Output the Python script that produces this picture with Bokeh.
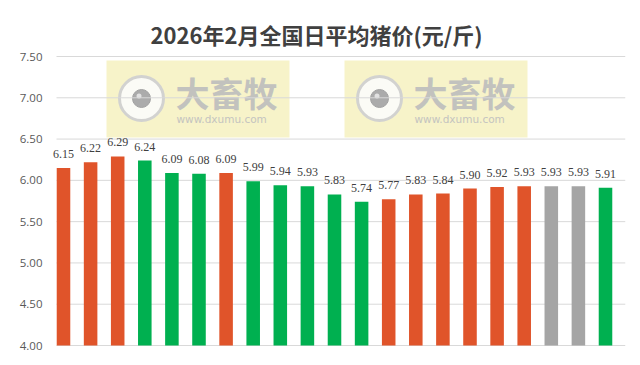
from bokeh.plotting import figure
from bokeh.models import ColumnDataSource, LabelSet, Label, BoxAnnotation, FixedTicker, NumeralTickFormatter, CategoricalColorMapper
from bokeh.embed import file_html
from bokeh.resources import INLINE

# ---- data ----
days = list(range(1, 22))
prices = [6.15, 6.22, 6.29, 6.24, 6.09, 6.08, 6.09, 5.99, 5.94, 5.93, 5.83,
          5.74, 5.77, 5.83, 5.84, 5.90, 5.92, 5.93, 5.93, 5.93, 5.91]
trend = ["up", "up", "up", "down", "down", "down", "up", "down", "down", "down", "down",
         "down", "up", "up", "up", "up", "up", "up", "flat", "flat", "down"]
y_ticks = [4.0, 4.5, 5.0, 5.5, 6.0, 6.5, 7.0, 7.5]
title_text = "2026年2月全国日平均猪价(元/斤)"

labels = ["%.2f" % v for v in prices]
src = ColumnDataSource(dict(day=days, price=prices, trend=trend, label=labels))

# frame geometry in page pixels
FL, FR, FT, FB = 44, 625, 55, 346
UNIT = 27.1                    # px per day
PX_PER_Y = (345 - 56) / 3.5    # px per yuan
X0 = 1 - (63 - FL) / UNIT
X1 = X0 + (FR - FL) / UNIT
Y0 = 4.0 - (FB - 345) / PX_PER_Y
Y1 = 7.5 + (56 - FT) / PX_PER_Y

p = figure(width=640, height=365, output_backend="svg", toolbar_location=None,
           x_range=(X0, X1), y_range=(Y0, Y1),
           min_border_left=FL, min_border_right=640 - FR, min_border_top=FT, min_border_bottom=365 - FB,
           background_fill_color="white", border_fill_color="white")
p.outline_line_color = None

# title
p.title.text = title_text
p.title.text_font = "Noto Sans CJK SC"
p.title.text_font_size = "22px"
p.title.text_font_style = "bold"
p.title.text_color = "#404040"
p.title.align = "left"
p.title.offset = 150 - FL
p.title.standoff = 12
p.title.text_line_height = 0.8

def px(x):
    return X0 + (x - FL) / UNIT

def py(y):
    return Y1 - (y - FT) / PX_PER_Y

# watermarks (decorative)
for dx in (0, 238):
    p.add_layout(BoxAnnotation(left=px(106 + dx), right=px(289 + dx), bottom=py(137), top=py(60),
                               fill_color="#F7F3C9", fill_alpha=1.0, line_color=None, level="image"))
    p.scatter([px(141 + dx)], [py(98)], size=44, fill_color="#FBFBF6", line_color="#D2D2D0",
              line_width=3, level="underlay")
    p.scatter([px(141 + dx)], [py(98)], size=18, fill_color="#ABABAB", line_color="#A2A2A2",
              line_width=1, level="underlay")
    p.scatter([px(138.5 + dx)], [py(95.5)], size=5, fill_color="#E2E2E2", line_color=None, level="underlay")
    p.add_layout(Label(x=px(175 + dx), y=py(92), text="大畜牧", text_font="Noto Sans CJK SC",
                       text_font_style="bold", text_font_size="34px", text_color="#C2C2BE",
                       text_align="left", text_baseline="middle", level="underlay"))
    p.add_layout(Label(x=px(176 + dx), y=py(118), text="www.dxumu.com", text_font="DejaVu Sans",
                       text_font_size="10.5px", text_color="#C4C4C0",
                       text_align="left", text_baseline="middle", level="underlay"))

# gridlines (drawn from the tick list, starting at the plot-area edge)
p.segment(x0=[px(56)] * len(y_ticks), x1=[X1] * len(y_ticks), y0=y_ticks, y1=y_ticks,
          line_color="#D9D9D9", line_width=1)

cmap = CategoricalColorMapper(factors=["up", "down", "flat"],
                              palette=["#E0542A", "#00B050", "#A5A5A5"])
p.vbar(x="day", top="price", bottom=4.0, width=0.5, source=src,
       fill_color={"field": "trend", "transform": cmap}, line_color=None)

p.add_layout(LabelSet(x="day", y="price", text="label", source=src, y_offset=10,
                      text_align="center", text_baseline="alphabetic",
                      text_font="Open Sans", text_font_size="12px", text_color="#404040"))

# axes
p.yaxis.ticker = FixedTicker(ticks=y_ticks)
p.yaxis.formatter = NumeralTickFormatter(format="0.00")
p.yaxis.axis_line_color = None
p.yaxis.major_tick_line_color = None
p.yaxis.minor_tick_line_color = None
p.yaxis.major_tick_out = 0
p.yaxis.major_label_standoff = 2
p.yaxis.major_label_text_font = "Open Sans"
p.yaxis.major_label_text_font_size = "11.5px"
p.yaxis.major_label_text_color = "#595959"

p.xaxis.visible = False
p.xgrid.grid_line_color = None
p.ygrid.grid_line_color = None

open("out.html", "w").write(file_html(p, INLINE))
